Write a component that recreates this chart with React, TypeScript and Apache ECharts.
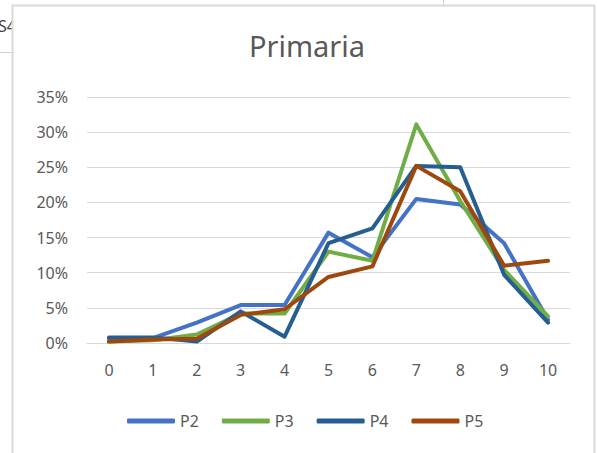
import React, { useEffect, useRef } from "react";
import * as echarts from "echarts";

const categories = ["0", "1", "2", "3", "4", "5", "6", "7", "8", "9", "10"];
const seriesNames = ["P2", "P3", "P4", "P5"];
const p2 = [0.006, 0.007, 0.029, 0.054, 0.054, 0.157, 0.122, 0.205, 0.197, 0.142, 0.033];
const p3 = [0.002, 0.004, 0.012, 0.042, 0.042, 0.13, 0.117, 0.311, 0.202, 0.104, 0.038];
const p4 = [0.008, 0.008, 0.002, 0.045, 0.009, 0.142, 0.163, 0.252, 0.25, 0.097, 0.029];
const p5 = [0.002, 0.005, 0.006, 0.04, 0.048, 0.094, 0.109, 0.252, 0.216, 0.11, 0.117];
const colors = ["#4472C4", "#70AD47", "#255E91", "#9E480E"];
const yTicks = [0, 0.05, 0.1, 0.15, 0.2, 0.25, 0.3, 0.35];

const FONT = "'Noto Sans', sans-serif";

export default function App() {
  const ref = useRef<HTMLDivElement>(null);
  useEffect(() => {
    if (!ref.current) return;
    const chart = echarts.init(ref.current, null, { renderer: "svg" });
    const data = [p2, p3, p4, p5];
    chart.setOption({
      animation: false,
      backgroundColor: "#ffffff",
      title: {
        text: "Primaria",
        left: 302,
        top: 26,
        textAlign: "center",
        textStyle: { fontFamily: FONT, fontSize: 29, fontWeight: "normal", color: "#595959" },
      },
      graphic: {
        elements: [
          { type: "line", shape: { x1: 0, y1: 52.5, x2: 13, y2: 52.5 }, style: { stroke: "#d0d0d0", lineWidth: 1 }, z: -10 },
          { type: "line", shape: { x1: 443.5, y1: 0, x2: 443.5, y2: 6 }, style: { stroke: "#d0d0d0", lineWidth: 1 }, z: -10 },
          { type: "text", x: -2, y: 18, style: { text: "S4", font: "16px 'Noto Sans', sans-serif", fill: "#404040" }, z: -10 },
          { type: "rect", shape: { x: 12.5, y: 5.5, width: 582, height: 460 }, style: { fill: "#ffffff", stroke: "#d9d9d9", lineWidth: 2 }, z: -5 },
        ],
      },
      grid: { left: 87, right: 27, top: 97, bottom: 110, containLabel: false, z: 2 },
      legend: {
        data: seriesNames,
        top: 408,
        left: 122,
        icon: "roundRect",
        itemWidth: 48,
        itemHeight: 5,
        itemGap: 23,
        textStyle: { fontFamily: FONT, fontSize: 16, color: "#595959" },
      },
      xAxis: {
        type: "category",
        data: categories,
        boundaryGap: true,
        z: 2,
        axisLine: { show: true, lineStyle: { color: "#d9d9d9", width: 1 } },
        axisTick: { show: false },
        axisLabel: { fontFamily: FONT, fontSize: 16, color: "#595959", margin: 19 },
      },
      yAxis: {
        type: "value",
        min: 0,
        max: 0.35,
        interval: 0.05,
        z: 2,
        axisLine: { show: false },
        axisTick: { show: false },
        splitLine: { lineStyle: { color: "#d9d9d9", width: 1 } },
        axisLabel: {
          fontFamily: FONT,
          fontSize: 16,
          color: "#595959",
          margin: 19,
          formatter: (v: number) => {
            const idx = yTicks.findIndex((t) => Math.abs(t - v) < 1e-9);
            return Math.round((idx >= 0 ? yTicks[idx] : v) * 100) + "%";
          },
        },
      },
      series: seriesNames.map((name, i) => ({
        name,
        type: "line",
        data: data[i],
        symbol: "none",
        color: colors[i],
        lineStyle: { width: 4, color: colors[i], cap: "round", join: "round" },
        z: 3 + i,
      })),
    });
    return () => chart.dispose();
  }, []);
  return <div ref={ref} style={{ position: "fixed", left: 0, top: 0, width: 597, height: 453 }} />;
}
